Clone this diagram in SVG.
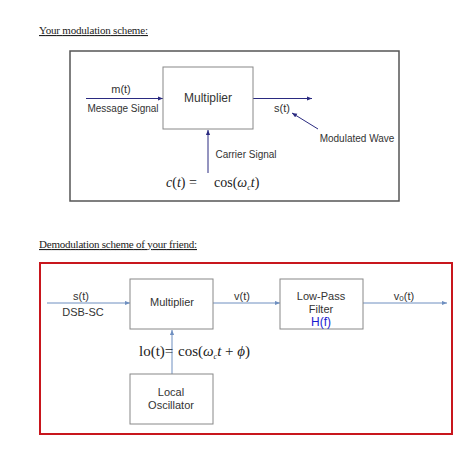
<svg xmlns="http://www.w3.org/2000/svg" width="474" height="459" viewBox="0 0 474 459">
<style>
.t{font-family:"Liberation Serif",serif;font-size:11px;fill:#222;text-decoration:underline}
.s{font-family:"Liberation Sans",Arial,sans-serif;fill:#333;text-anchor:middle}
.m{font-family:"Liberation Serif",serif;fill:#222}
.box{fill:#fff;stroke:#888;stroke-width:1}
.l1{stroke:#2a2a80;stroke-width:1;fill:none}
.l2{stroke:#6f8fc0;stroke-width:1;fill:none}
</style>
<defs>
<marker id="a1" viewBox="0 0 6 6" refX="6" refY="3" markerWidth="5" markerHeight="5" orient="auto"><path d="M0,0.5 L6,3 L0,5.5 z" fill="#2a2a80"/></marker>
<marker id="a2" viewBox="0 0 6 6" refX="6" refY="3" markerWidth="5" markerHeight="5" orient="auto"><path d="M0,0.5 L6,3 L0,5.5 z" fill="#6f8fc0"/></marker>
</defs>
<rect width="474" height="459" fill="#fff"/>
<text class="t" x="39" y="34" textLength="109">Your modulation scheme:</text>
<rect x="70" y="51" width="329" height="150" fill="#fff" stroke="#555" stroke-width="1.5"/>
<g id="connectors">
<line class="l1" x1="86" y1="98.5" x2="163" y2="98.5" marker-end="url(#a1)"/>
<line class="l1" x1="253" y1="98.5" x2="312" y2="98.5" marker-end="url(#a1)"/>
<line class="l1" x1="318" y1="129" x2="292" y2="113" marker-end="url(#a1)"/>
<line class="l1" x1="208" y1="173" x2="208" y2="130" marker-end="url(#a1)"/>
<line class="l2" x1="47" y1="303" x2="130" y2="303" marker-end="url(#a2)"/>
<line class="l2" x1="213" y1="303" x2="280" y2="303" marker-end="url(#a2)"/>
<line class="l2" x1="363" y1="303" x2="447" y2="303" marker-end="url(#a2)"/>
<line class="l2" x1="172" y1="374" x2="172" y2="330" marker-end="url(#a2)"/>
</g>
<g id="mult1">
<rect class="box" x="163" y="67" width="90" height="62"/>
<text class="s" x="208" y="102" font-size="12">Multiplier</text>
</g>
<g id="labels1">
<text class="s" x="121" y="93" font-size="11">m(t)</text>
<text class="s" x="123" y="112" font-size="10">Message Signal</text>
<text class="s" x="282" y="112" font-size="11">s(t)</text>
<text class="s" x="357" y="142" font-size="10">Modulated Wave</text>
<text class="s" x="246" y="158" font-size="10">Carrier Signal</text>
<text class="m" x="166" y="187" font-size="14"><tspan font-style="italic">c</tspan>(<tspan font-style="italic">t</tspan>) =</text>
<text class="m" x="214" y="187" font-size="14">cos(<tspan font-style="italic">ω</tspan><tspan font-style="italic" font-size="8" dy="3">c</tspan><tspan font-style="italic" dy="-3">t</tspan>)</text>
</g>
<text class="t" x="39" y="248" textLength="158">Demodulation scheme of your friend:</text>
<rect x="40" y="263" width="412" height="171" fill="none" stroke="#c8161d" stroke-width="2"/>
<g id="mult2">
<rect class="box" x="130" y="279" width="83" height="50"/>
<text class="s" x="172" y="306" font-size="11">Multiplier</text>
</g>
<g id="lpf">
<rect class="box" x="280" y="279" width="83" height="50"/>
<text class="s" x="321" y="300" font-size="11">Low-Pass</text>
<text class="s" x="321" y="313" font-size="11">Filter</text>
<text class="s" x="321" y="326" font-size="12" style="fill:#1a1ad0">H(f)</text>
</g>
<g id="lo">
<rect class="box" x="130" y="374" width="83" height="50"/>
<text class="s" x="171" y="396" font-size="11">Local</text>
<text class="s" x="171" y="409" font-size="11">Oscillator</text>
</g>
<g id="labels2">
<text class="s" x="81" y="300" font-size="11">s(t)</text>
<text class="s" x="83" y="316" font-size="11">DSB-SC</text>
<text class="s" x="242" y="300" font-size="11">v(t)</text>
<text class="s" x="404" y="300" font-size="11">v<tspan font-size="8" dy="1">0</tspan><tspan dy="-1">(t)</tspan></text>
<text class="m" x="139" y="356" font-size="15">lo(t)=</text>
<text class="m" x="178" y="356" font-size="15">cos(<tspan font-style="italic">ω</tspan><tspan font-style="italic" font-size="8" dy="3">c</tspan><tspan font-style="italic" dy="-3">t</tspan> + <tspan font-style="italic">ϕ</tspan>)</text>
</g>
</svg>
